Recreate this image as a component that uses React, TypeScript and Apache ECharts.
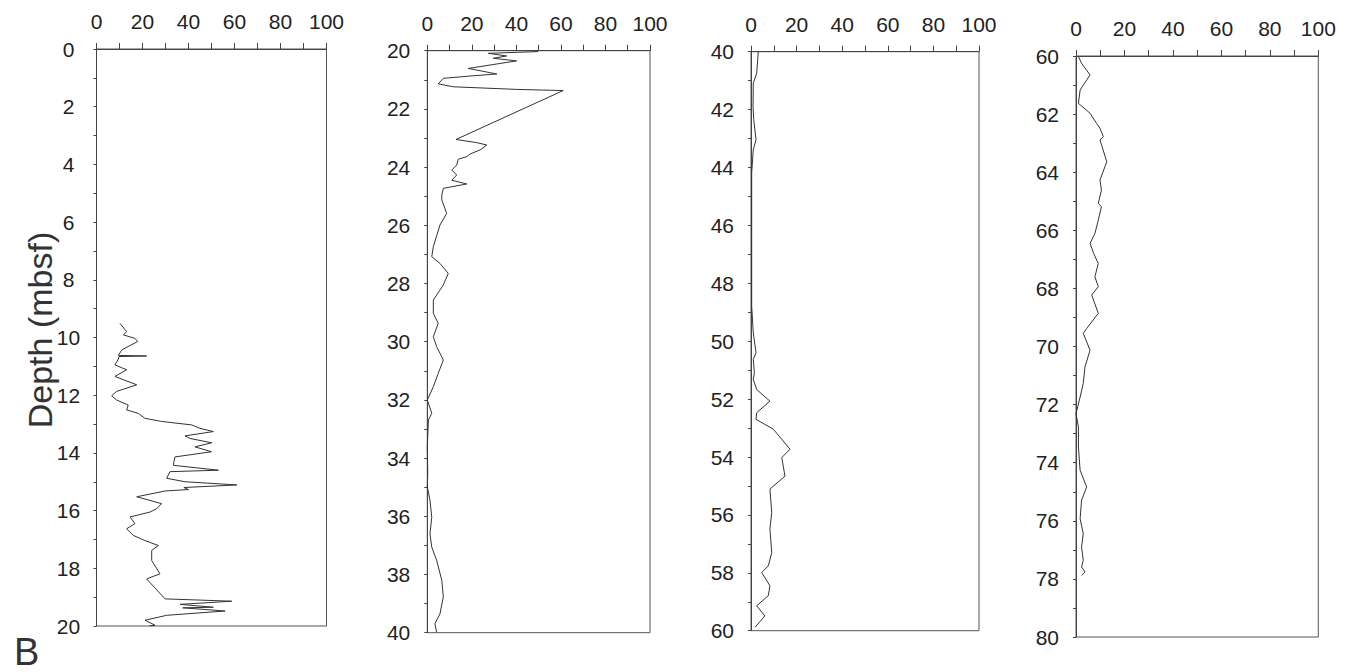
import React, { useEffect, useRef } from "react";
import * as echarts from "echarts";

// Panel depth ranges (mbsf)
const depthMin = [0, 20, 40, 60];
const depthMax = [20, 40, 60, 80];
const xTicks = [0, 20, 40, 60, 80, 100];

// Panel 1 (0-20 mbsf)
const depth1 = [9.51, 9.8, 9.91, 10.03, 10.14, 10.43, 10.62, 10.64, 10.66, 10.75, 10.95, 11.12, 11.35, 11.64, 11.87, 12.02, 12.17, 12.34, 12.51, 12.63, 12.8, 12.91, 13.03, 13.15, 13.26, 13.41, 13.5, 13.65, 13.79, 13.96, 14.14, 14.43, 14.6, 14.65, 14.88, 15.0, 15.11, 15.2, 15.27, 15.32, 15.52, 15.76, 15.93, 16.05, 16.22, 16.45, 16.63, 16.86, 17.04, 17.21, 17.38, 17.73, 18.19, 18.37, 19.06, 19.14, 19.25, 19.35, 19.37, 19.48, 19.63, 19.8, 19.97, 20.0];
const pct1 = [10.2, 13.1, 11.7, 16.7, 17.9, 11.0, 9.5, 21.8, 9.8, 9.5, 8.0, 13.1, 8.0, 17.5, 8.7, 6.6, 8.8, 13.8, 13.1, 18.2, 21.0, 28.3, 41.4, 45.0, 50.8, 38.5, 40.7, 50.1, 42.8, 50.0, 34.1, 33.4, 53.0, 32.0, 30.5, 38.5, 61.0, 38.0, 40.0, 29.8, 17.5, 28.3, 26.2, 23.3, 14.6, 16.7, 13.1, 16.0, 21.1, 26.9, 24.0, 24.0, 27.6, 21.8, 29.8, 58.8, 36.3, 50.8, 37.5, 55.9, 30.5, 21.1, 25.4, 23.0];

// Panel 2 (20-40 mbsf)
const depth2 = [20.03, 20.09, 20.18, 20.26, 20.35, 20.61, 20.8, 20.87, 20.95, 21.14, 21.24, 21.33, 21.37, 23.05, 23.16, 23.24, 23.41, 23.55, 23.64, 23.73, 23.93, 24.1, 24.27, 24.45, 24.58, 24.73, 24.96, 25.13, 25.59, 25.99, 26.73, 27.08, 27.31, 27.65, 28.05, 28.57, 29.02, 29.37, 29.83, 30.17, 30.63, 31.09, 31.55, 32.0, 32.46, 32.69, 33.61, 34.53, 34.99, 35.45, 36.03, 36.6, 37.06, 37.51, 38.2, 38.77, 39.35, 39.69, 39.98];
const pct2 = [49.8, 27.4, 35.6, 29.6, 40.1, 18.4, 31.2, 19.2, 7.2, 4.9, 11.7, 40.1, 61.0, 12.9, 22.2, 26.7, 23.7, 19.2, 17.7, 13.9, 13.2, 11.0, 13.2, 11.0, 17.7, 7.2, 6.5, 6.5, 8.7, 5.7, 2.7, 2.0, 5.7, 9.4, 7.2, 2.7, 2.7, 4.9, 2.7, 4.2, 7.2, 4.9, 2.7, 0.0, 2.0, 0.5, 0.0, 0.2, 0.0, 1.2, 2.0, 1.2, 2.0, 4.2, 6.5, 7.2, 5.7, 3.4, 4.2];

// Panel 3 (40-60 mbsf)
const depth3 = [40.0, 40.74, 41.09, 41.9, 42.35, 43.04, 43.39, 44.19, 46.49, 48.79, 49.71, 50.4, 50.63, 51.09, 51.32, 51.67, 52.07, 52.47, 52.7, 53.04, 53.73, 54.02, 54.66, 55.11, 55.92, 56.49, 57.3, 57.76, 57.99, 58.45, 58.79, 59.14, 59.49, 59.88];
const pct3 = [3.2, 2.5, 1.0, 0.9, 1.2, 2.2, 1.0, 0.3, 0.3, 0.3, 1.0, 2.2, 1.0, 1.5, 1.0, 2.5, 8.3, 2.5, 2.2, 9.8, 17.1, 13.5, 14.9, 8.3, 9.1, 8.3, 9.1, 7.6, 4.7, 8.3, 7.6, 2.5, 6.1, 1.8];

// Panel 4 (60-80 mbsf)
const depth4 = [60.02, 60.25, 60.65, 61.17, 61.63, 61.97, 62.32, 62.49, 62.78, 62.89, 63.64, 64.27, 64.62, 65.07, 65.19, 65.65, 66.11, 66.45, 66.8, 67.14, 67.6, 67.94, 68.23, 68.86, 69.38, 69.55, 70.13, 70.7, 71.27, 71.74, 72.31, 72.77, 73.46, 74.26, 74.84, 75.29, 75.93, 76.44, 76.9, 77.36, 77.59, 77.76, 77.88];
const pct4 = [1.0, 2.3, 5.8, 1.7, 1.0, 5.8, 8.5, 9.9, 11.3, 9.9, 12.7, 9.9, 10.5, 9.2, 10.5, 9.2, 7.8, 5.8, 7.3, 9.2, 7.8, 9.2, 6.5, 9.2, 4.4, 3.0, 5.8, 3.7, 3.0, 1.7, 0.0, 1.0, 1.0, 1.7, 4.4, 2.3, 1.7, 3.0, 2.3, 3.0, 2.3, 3.7, 2.3];

const depths = [depth1, depth2, depth3, depth4];
const pcts = [pct1, pct2, pct3, pct4];

const grids = [
  { left: 96.5, top: 49, width: 230, height: 577 },
  { left: 427.3, top: 50.7, width: 222.7, height: 582 },
  { left: 751, top: 51.7, width: 228, height: 579 },
  { left: 1076, top: 56, width: 242.3, height: 581 },
];

const FONT = "'Liberation Sans', Arial, Helvetica, sans-serif";
const TXT = "#222";
const AX = "#444";

export default function App() {
  const ref = useRef<HTMLDivElement>(null);
  useEffect(() => {
    if (!ref.current) return;
    const chart = echarts.init(ref.current, undefined, { renderer: "svg" });
    const option: any = {
      animation: false,
      backgroundColor: "#ffffff",
      grid: grids.map((g) => ({
        ...g,
        show: true,
        borderColor: "#555",
        borderWidth: 1,
        backgroundColor: "transparent",
        containLabel: false,
      })),
      xAxis: grids.map((_, i) => ({
        type: "value",
        gridIndex: i,
        position: "top",
        min: 0,
        max: 100,
        interval: 10,
        axisLine: { show: true, lineStyle: { color: AX, width: 1 } },
        axisTick: { show: true, inside: false, length: 6, lineStyle: { color: AX } },
        splitLine: { show: false },
        axisLabel: {
          margin: 17,
          fontSize: 21,
          fontFamily: FONT,
          color: TXT,
          showMinLabel: true,
          showMaxLabel: true,
          formatter: (v: number) => (xTicks.includes(v) ? String(v) : ""),
        },
      })),
      yAxis: grids.map((_, i) => ({
        type: "value",
        gridIndex: i,
        inverse: true,
        min: depthMin[i],
        max: depthMax[i],
        interval: 1,
        axisLine: { show: true, lineStyle: { color: AX, width: 1 } },
        axisTick: { show: true, inside: false, length: 3, lineStyle: { color: AX } },
        splitLine: { show: false },
        axisLabel: {
          margin: i === 0 ? 28 : 17,
          align: i === 0 ? "center" : "right",
          fontSize: 21,
          fontFamily: FONT,
          color: TXT,
          showMinLabel: true,
          showMaxLabel: true,
          formatter: (v: number) => (v % 2 === 0 ? String(v) : ""),
        },
      })),
      series: depths.map((d, i) => ({
        type: "line",
        xAxisIndex: i,
        yAxisIndex: i,
        showSymbol: false,
        symbol: "none",
        smooth: false,
        lineStyle: { color: "#333", width: 1 },
        data: d.map((y, k) => [pcts[i][k], y]),
      })),
      graphic: [
        {
          type: "text",
          x: 40,
          y: 330,
          rotation: Math.PI / 2,
          style: {
            text: "Depth (mbsf)",
            fontSize: 34,
            fontFamily: FONT,
            fill: "#333",
            align: "center",
            verticalAlign: "middle",
          },
        },
        {
          type: "text",
          x: 14,
          y: 671,
          style: {
            text: "B",
            fontSize: 38,
            fontFamily: FONT,
            fill: "#333",
            align: "left",
            verticalAlign: "bottom",
          },
        },
      ],
    };
    chart.setOption(option);
    return () => chart.dispose();
  }, []);
  return (
    <div
      ref={ref}
      style={{ position: "fixed", left: 0, top: 0, width: 1368, height: 672, background: "#fff" }}
    />
  );
}
